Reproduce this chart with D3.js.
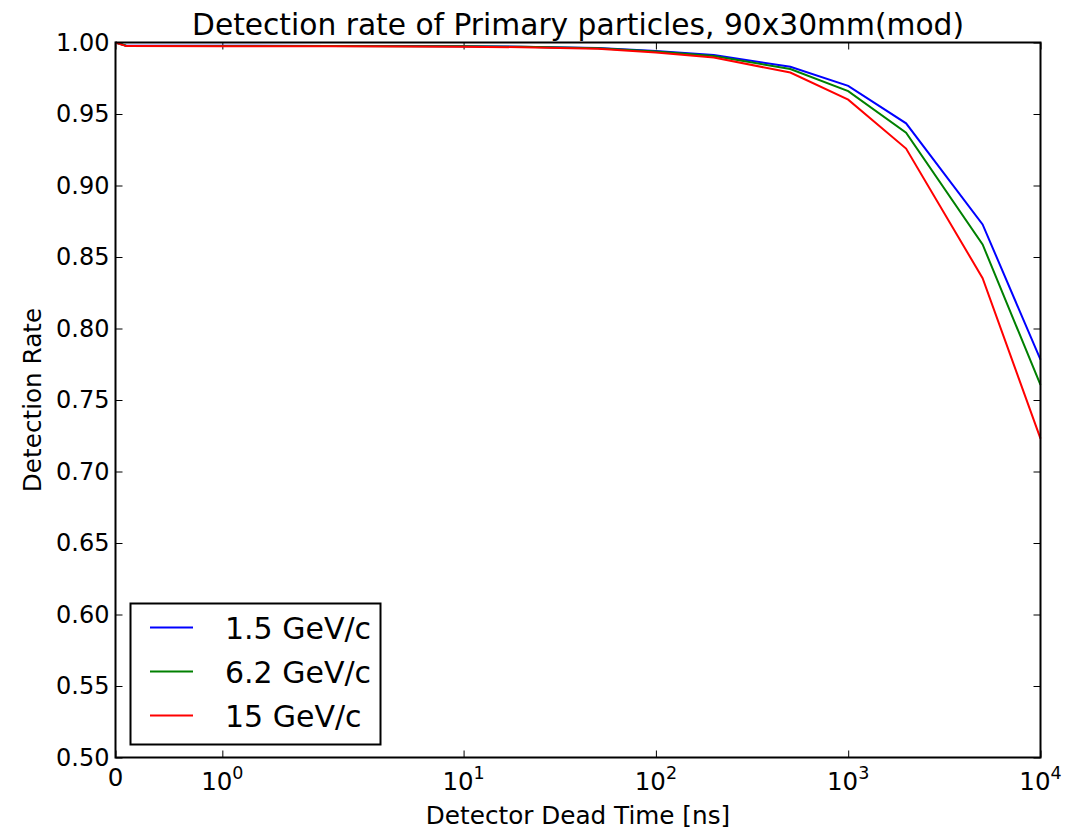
<!DOCTYPE html>
<html>
<head>
<meta charset="utf-8">
<script src="https://cdn.jsdelivr.net/npm/d3@7"></script>
<style>
  body { margin: 0; background: #fff; }
  svg { font-family: "DejaVu Sans", sans-serif; }
  .domain { display: none; }
</style>
</head>
<body>
<svg id="chart" width="1073" height="829"></svg>
<script>
// dead time values [ns]
let deadTimes = [0, 0.1, 1, 2, 5, 10, 20, 50, 100, 200, 500, 1000, 2000, 5000, 10000];
let rate15 = [1.0, 0.9978, 0.9977, 0.9976, 0.9975, 0.9974, 0.9971, 0.9962, 0.9940, 0.9912, 0.9830, 0.9697, 0.9435, 0.8728, 0.7782];
let rate62 = [1.0, 0.9977, 0.9976, 0.9975, 0.9974, 0.9973, 0.9970, 0.9960, 0.9937, 0.9905, 0.9815, 0.9660, 0.9370, 0.8588, 0.7605];
let rate150 = [1.0, 0.9975, 0.9974, 0.9973, 0.9972, 0.9970, 0.9967, 0.9956, 0.9930, 0.9895, 0.9790, 0.9600, 0.9258, 0.8352, 0.7230];
let seriesNames = ["1.5 GeV/c", "6.2 GeV/c", "15 GeV/c"];
let seriesColors = ["#0000ff", "#008000", "#ff0000"];
let xTicks = [0, 1, 10, 100, 1000, 10000];
let yTicks = [0.50, 0.55, 0.60, 0.65, 0.70, 0.75, 0.80, 0.85, 0.90, 0.95, 1.00];

let svg = d3.select("#chart");
let pLeft = 115.5, pRight = 1040.5, pTop = 42.5, pBottom = 757.5;

// symlog like old matplotlib (linthresh=2, linscale=1)
let linthresh = 2, linscale = 1 / (1 - 1 / 10);
function symT(v) {
  return v <= linthresh ? v * linscale : linthresh * (linscale + Math.log10(v / linthresh));
}
let xLin = d3.scaleLinear().domain([symT(0), symT(10000)]).range([pLeft, pRight]);
let x = v => xLin(symT(v));
let y = d3.scaleLinear().domain([0.5, 1.0]).range([pBottom, pTop]);

// axes with inward ticks on all four sides
let tickPos = xTicks.map(symT);
svg.append("g").attr("transform", `translate(0,${pBottom})`)
  .call(d3.axisBottom(xLin).tickValues(tickPos).tickSize(-7).tickFormat(""))
  .call(g => g.selectAll(".tick line").attr("stroke", "#000").attr("stroke-width", 1));
svg.append("g").attr("transform", `translate(0,${pTop})`)
  .call(d3.axisTop(xLin).tickValues(tickPos).tickSize(-7).tickFormat(""))
  .call(g => g.selectAll(".tick line").attr("stroke", "#000").attr("stroke-width", 1));
svg.append("g").attr("transform", `translate(${pLeft},0)`)
  .call(d3.axisLeft(y).tickValues(yTicks).tickSize(-7).tickPadding(6).tickFormat(d3.format(".2f")))
  .call(g => g.selectAll(".tick line").attr("stroke", "#000").attr("stroke-width", 1))
  .call(g => g.selectAll(".tick text").attr("font-size", 24).attr("fill", "#000")
    .attr("font-family", "DejaVu Sans"));
svg.append("g").attr("transform", `translate(${pRight},0)`)
  .call(d3.axisRight(y).tickValues(yTicks).tickSize(-7).tickFormat(""))
  .call(g => g.selectAll(".tick line").attr("stroke", "#000").attr("stroke-width", 1));

// x tick labels with exponents
xTicks.forEach(t => {
  let txt = svg.append("text")
    .attr("x", x(t))
    .attr("y", t === 0 ? 786 : 790)
    .attr("text-anchor", "middle")
    .attr("font-size", 24.5);
  if (t === 0) {
    txt.text("0");
  } else {
    txt.append("tspan").text("10");
    txt.append("tspan").attr("dy", -11).attr("font-size", 17.5).text(Math.round(Math.log10(t)));
  }
});

// lines
let line = d3.line().x(d => x(d[0])).y(d => y(d[1]));
[rate15, rate62, rate150].forEach((vals, i) => {
  svg.append("path")
    .datum(deadTimes.map((d, j) => [d, vals[j]]))
    .attr("fill", "none")
    .attr("stroke", seriesColors[i])
    .attr("stroke-width", 2)
    .attr("d", line);
});

// frame
svg.append("rect")
  .attr("x", pLeft).attr("y", pTop)
  .attr("width", pRight - pLeft).attr("height", pBottom - pTop)
  .attr("fill", "none").attr("stroke", "#000").attr("stroke-width", 2);

// titles
svg.append("text").attr("x", (pLeft + pRight) / 2).attr("y", 35)
  .attr("text-anchor", "middle").attr("font-size", 29.7)
  .text("Detection rate of Primary particles, 90x30mm(mod)");
svg.append("text").attr("x", (pLeft + pRight) / 2).attr("y", 824)
  .attr("text-anchor", "middle").attr("font-size", 24.7)
  .text("Detector Dead Time [ns]");
svg.append("text").attr("transform", `translate(41,${(pTop + pBottom) / 2}) rotate(-90)`)
  .attr("text-anchor", "middle").attr("font-size", 24.7)
  .text("Detection Rate");

// legend
let legend = svg.append("g");
legend.append("rect")
  .attr("x", 130.5).attr("y", 603.5).attr("width", 250).attr("height", 141)
  .attr("fill", "#fff").attr("stroke", "#000").attr("stroke-width", 2);
seriesNames.forEach((name, i) => {
  let ly = 627.5 + i * 44;
  legend.append("line")
    .attr("x1", 150).attr("x2", 193).attr("y1", ly).attr("y2", ly)
    .attr("stroke", seriesColors[i]).attr("stroke-width", 2);
  legend.append("text")
    .attr("x", 225).attr("y", ly + 11)
    .attr("font-size", 30)
    .text(name);
});
</script>
</body>
</html>
